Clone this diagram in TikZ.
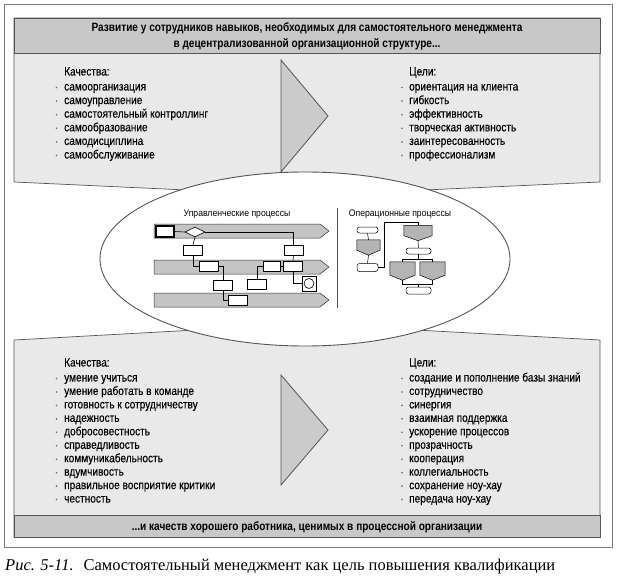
\documentclass[tikz,border=0pt]{standalone}
\usepackage{fontspec}
\setmainfont{Liberation Sans}[FakeStretch=0.84]
\newfontfamily\itemfont{Liberation Sans}[FakeStretch=0.84, FakeBold=0.3]
\newfontfamily\titlefont{Liberation Sans}[FakeStretch=0.9]
\newfontfamily\capfont{Liberation Serif}
\usetikzlibrary{shapes.geometric,calc}
\definecolor{panelfill}{HTML}{E9E9E9}
\definecolor{headfill}{HTML}{C8C8C8}
\definecolor{trifill}{HTML}{CBCBCB}
\definecolor{lanefill}{HTML}{C4C4C4}
\definecolor{pentfill}{HTML}{B4B4B4}
\definecolor{framec}{HTML}{7A7A7A}
\definecolor{edgec}{HTML}{555555}
\definecolor{bulletc}{HTML}{666666}
\tikzset{
  framebox/.style={draw=framec, line width=1pt},
  panel/.style={draw=edgec, fill=panelfill, line width=0.7pt},
  headbox/.style={draw=edgec, fill=headfill, line width=0.8pt},
  tri/.style={draw=edgec, fill=trifill, line width=0.8pt, line join=miter},
  oval/.style={draw=edgec, fill=white, line width=0.9pt},
  itemtxt/.style={anchor=base west, inner sep=0pt, font=\itemfont\fontsize{12}{13}\selectfont},
  headtxt/.style={anchor=base, inner sep=0pt, font=\fontsize{12}{13}\selectfont\bfseries},
  titletxt/.style={anchor=base, inner sep=0pt, font=\titlefont\fontsize{9.6}{11}\selectfont},
  lane/.style={draw=black!80, fill=lanefill, line width=0.5pt},
  mbox/.style={draw=black, fill=white, line width=0.6pt, inner sep=0pt, minimum width=19pt, minimum height=10pt},
  thickbox/.style={mbox, line width=1.2pt},
  dec/.style={diamond, draw=black, fill=white, line width=0.6pt, inner sep=0pt, minimum width=20pt, minimum height=10pt},
  rbox/.style={draw=black, fill=white, line width=0.5pt, rounded corners=2.5pt, inner sep=0pt, minimum width=23pt, minimum height=6pt},
  pent/.style={inner sep=0pt, draw=none},
  pentshape/.style={draw=black, fill=pentfill, line width=0.5pt},
  conn/.style={draw=black, line width=0.6pt},
  divider/.style={draw=black!70, line width=0.7pt}
}
\begin{document}
\begin{tikzpicture}[x=1pt,y=-1pt]
\useasboundingbox (0,0) rectangle (617,577);
% outer frame
\draw[framebox] (4,5) rectangle (612,547);
% top panel
\draw[panel] (14,18) -- (600,18) -- (600,182) -- (305,195.5) -- (14,182) -- cycle;
\draw[headbox] (14,18) rectangle (600,53);
\node[headtxt] (h1) at (307,32) {Развитие у сотрудников навыков, необходимых для самостоятельного менеджмента};
\node[headtxt] (h2) at (307,48) {в децентрализованной организационной структуре...};
\draw[tri] (281,60) -- (328,116) -- (281,172) -- cycle;
% top lists
\node[itemtxt] (tqh) at (64,75.5) {Качества:};
\foreach \t [count=\i from 0] in {самоорганизация, самоуправление, самостоятельный контроллинг, самообразование, самодисциплина, самообслуживание}{
  \node[itemtxt] (tq\i) at (64,{90.5+13.6*\i}) {\t};
  \fill[bulletc] (56.5,{87.5+13.6*\i}) circle (0.9pt);
}
\node[itemtxt] (tgh) at (409,75.5) {Цели:};
\foreach \t [count=\i from 0] in {ориентация на клиента, гибкость, эффективность, творческая активность, заинтересованность, профессионализм}{
  \node[itemtxt] (tg\i) at (409,{90.5+13.6*\i}) {\t};
  \fill[bulletc] (402,{87.5+13.6*\i}) circle (0.9pt);
}
% bottom panel
\draw[panel] (14,340) -- (305,324) -- (600,340) -- (600,537) -- (14,537) -- cycle;
\draw[headbox] (14,515) rectangle (600,537);
\node[headtxt] (b1) at (307,530) {...и качеств хорошего работника, ценимых в процессной организации};
\draw[tri] (281,375) -- (328,430) -- (281,485) -- cycle;
\node[itemtxt] (bqh) at (64,366.5) {Качества:};
\foreach \t [count=\i from 0] in {умение учиться, умение работать в команде, готовность к сотрудничеству, надежность, добросовестность, справедливость, коммуникабельность, вдумчивость, правильное восприятие критики, честность}{
  \node[itemtxt] (bq\i) at (64,{381.5+13.45*\i}) {\t};
  \fill[bulletc] (56.5,{378.5+13.45*\i}) circle (0.9pt);
}
\node[itemtxt] (bgh) at (409,366.5) {Цели:};
\foreach \t [count=\i from 0] in {создание и пополнение базы знаний, сотрудничество, синергия, взаимная поддержка, ускорение процессов, прозрачность, кооперация, коллегиальность, сохранение ноу-хау, передача ноу-хау}{
  \node[itemtxt] (bg\i) at (409,{381.5+13.45*\i}) {\t};
  \fill[bulletc] (402,{378.5+13.45*\i}) circle (0.9pt);
}
% central ellipse
\draw[oval] (305,259) ellipse [x radius=205pt, y radius=87pt];
% titles and divider
\node[titletxt] (t1) at (237,216) {Управленческие процессы};
\node[titletxt] (t2) at (400,216) {Операционные процессы};
\draw[divider] (337,208) -- (337,308);
% lanes
\draw[lane] (154,224) -- (320,224) -- (329,231) -- (320,238) -- (154,238) -- cycle;
\draw[lane] (154,260) -- (320,260) -- (329,267) -- (320,274) -- (154,274) -- cycle;
\draw[lane] (154,293) -- (320,293) -- (329,300) -- (320,307) -- (154,307) -- cycle;
% management process boxes
\node[thickbox, minimum width=18pt, minimum height=11pt] (A) at (165,231.5) {};
\node[dec] (D0) at (195,232) {};
\node[mbox] (B) at (193,250) {};
\node[mbox] (C) at (208.5,266) {};
\node[mbox] (D) at (223,285) {};
\node[mbox] (E) at (238,300.5) {};
\node[mbox] (F) at (257,284.5) {};
\node[mbox, minimum width=17pt] (G) at (271.5,266) {};
\node[mbox] (H) at (293,266) {};
\node[mbox] (I) at (293.5,250) {};
\node[mbox, minimum width=14pt, minimum height=15pt] (J) at (309,283.5) {};
\draw[line width=0.6pt] (J.center) circle (5pt);
\draw[conn] (A.east) -- (D0.west);
\draw[conn] (D0.east) -| (I.north);
\draw[conn] (D0.south) -- (B.north);
\draw[conn] (B.south) |- (C.west);
\draw[conn] (C.east) -| (D.north);
\draw[conn] (D.south) |- (E.west);
\draw[conn] (F.north) |- (G.west);
\draw[conn] (G.east) -- (H.west);
\draw[conn] (I.south) -- (H.north);
\draw[conn] (H.south) |- (J.west);
% operational process flowchart
\node[rbox, minimum width=21pt] (R1) at (367.5,230) {};
\node[pent, minimum width=23pt, minimum height=15pt] (P2) at (368.5,247.5) {};
\node[rbox, minimum width=21pt, minimum height=8pt] (R3) at (367.5,267.5) {};
\node[pent, minimum width=28pt, minimum height=15pt] (P4) at (418,233) {};
\node[rbox, minimum width=25pt] (R5) at (418.5,251) {};
\node[pent, minimum width=25pt, minimum height=18pt] (P6) at (402.5,271) {};
\node[pent, minimum width=25pt, minimum height=18pt] (P7) at (432.5,271) {};
\node[rbox, minimum width=25pt, minimum height=7pt] (R8) at (418.5,290.5) {};
\foreach \p in {P2,P4,P6,P7}{
  \draw[pentshape] (\p.north west) -- (\p.north east) -- ([yshift=5pt]\p.south east) -- (\p.south) -- ([yshift=5pt]\p.south west) -- cycle;
}
\coordinate (c1) at (384,222);
\coordinate (s1) at (418.5,259);
\coordinate (m1) at (418.5,284);
\draw[conn, line width=0.5pt] (R1.south) -- (P2.north);
\draw[conn, line width=0.5pt] (P2.south) -- (R3.north);
\draw[conn, line width=0.5pt] (R3.east) -| (c1) -| (P4.north);
\draw[conn, line width=0.5pt] (P4.south) -- (R5.north);
\draw[conn, line width=0.5pt] (R5.south) -- (s1);
\draw[conn, line width=0.5pt] (P6.north) |- (s1);
\draw[conn, line width=0.5pt] (P7.north) |- (s1);
\draw[conn, line width=0.5pt] (P6.south) |- (m1);
\draw[conn, line width=0.5pt] (P7.south) |- (m1);
\draw[conn, line width=0.5pt] (m1) -- (R8.north);
% caption
\node[anchor=base west, inner sep=0pt, font=\capfont\fontsize{16.5}{16.5}\selectfont] (cap) at (5,570.5) {\textit{Рис. 5-11.}\hspace{0.6em}Самостоятельный менеджмент как цель повышения квалификации};
\end{tikzpicture}
\end{document}
